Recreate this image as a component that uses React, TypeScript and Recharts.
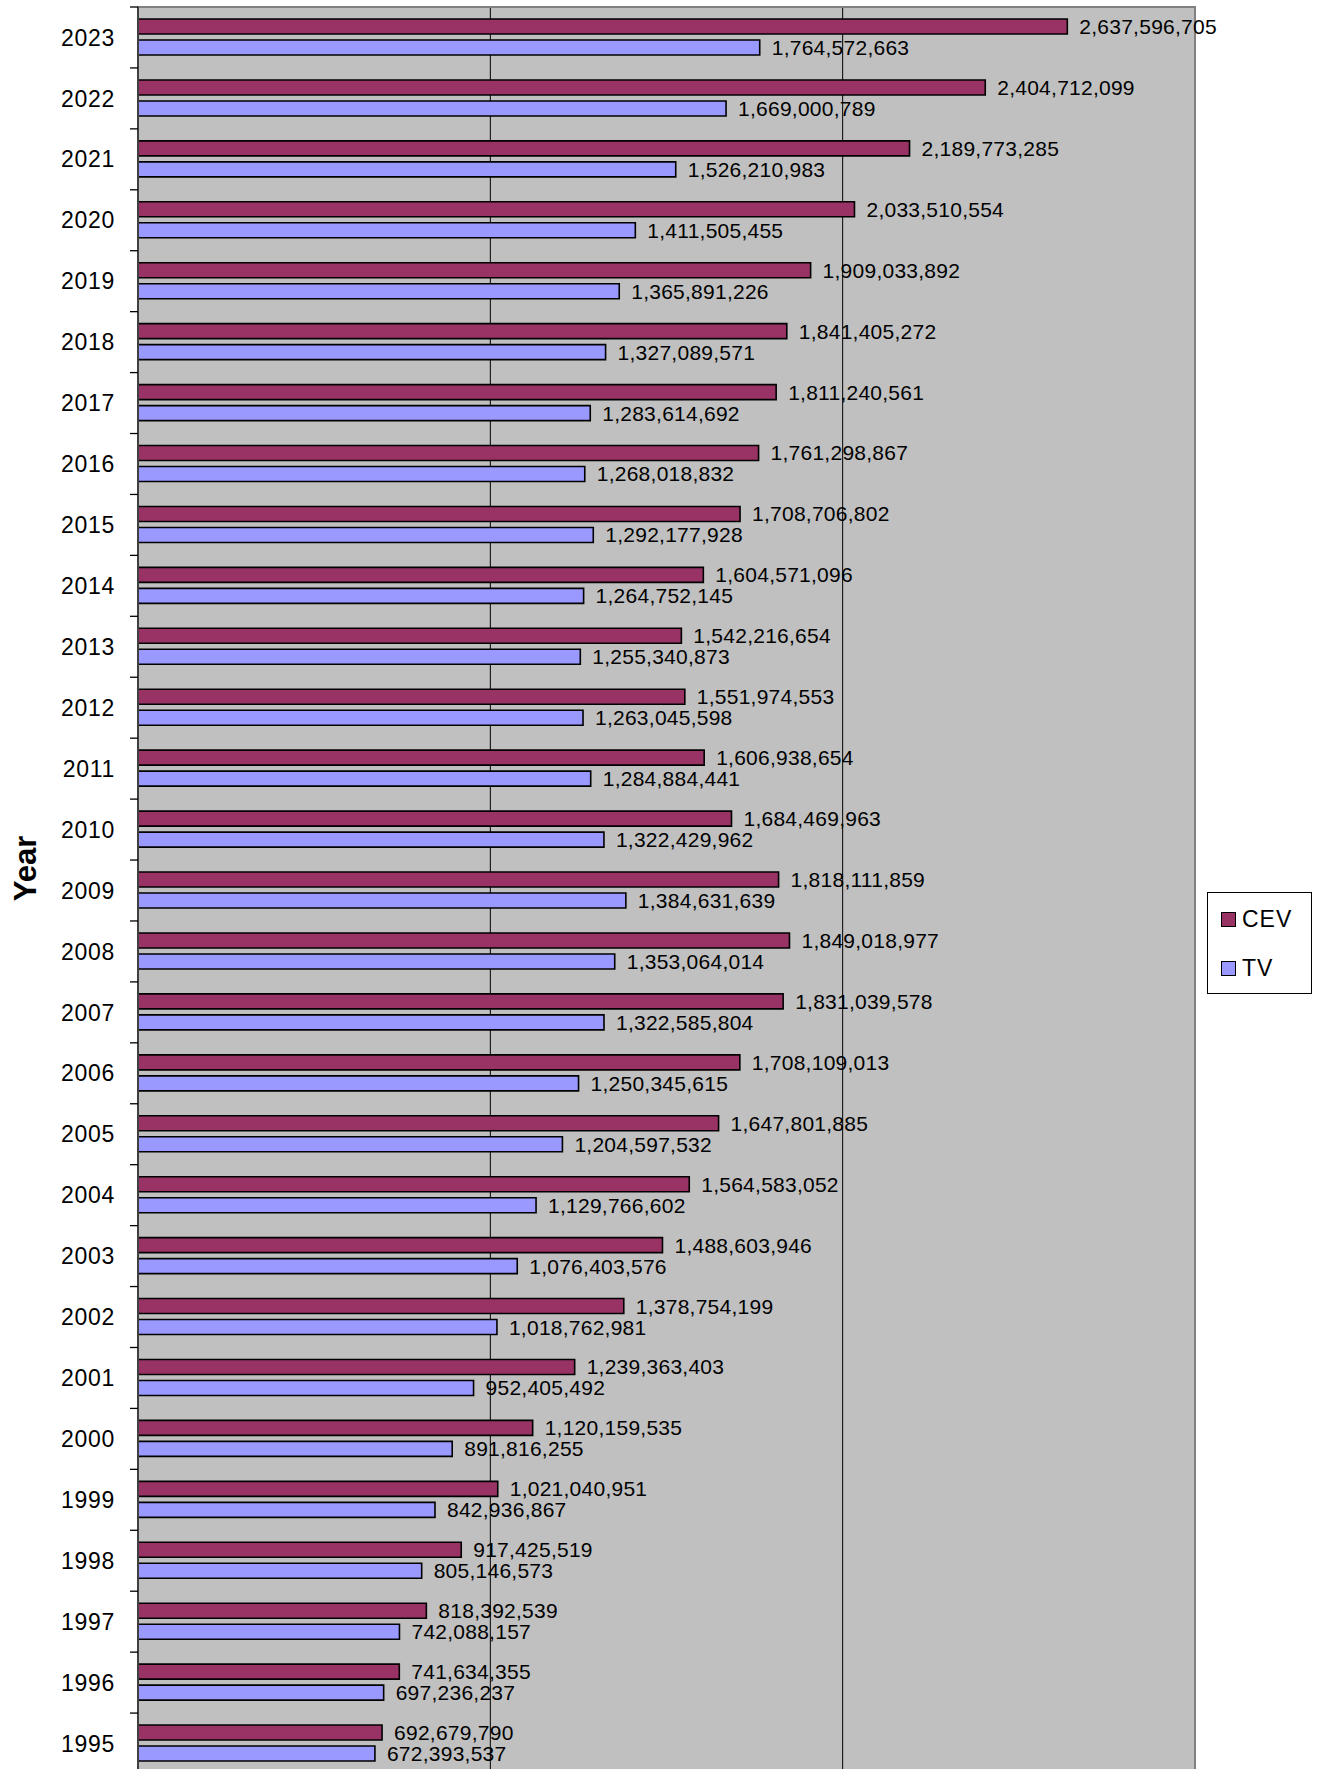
import React from 'react';
import {
  BarChart,
  Bar,
  XAxis,
  YAxis,
  CartesianGrid,
  LabelList,
  Legend,
  usePlotArea,
} from 'recharts';

const years = [
  '2023', '2022', '2021', '2020', '2019', '2018', '2017', '2016', '2015', '2014',
  '2013', '2012', '2011', '2010', '2009', '2008', '2007', '2006', '2005', '2004',
  '2003', '2002', '2001', '2000', '1999', '1998', '1997', '1996', '1995',
];

const cevValues = [
  2637596705, 2404712099, 2189773285, 2033510554, 1909033892, 1841405272, 1811240561,
  1761298867, 1708706802, 1604571096, 1542216654, 1551974553, 1606938654, 1684469963,
  1818111859, 1849018977, 1831039578, 1708109013, 1647801885, 1564583052, 1488603946,
  1378754199, 1239363403, 1120159535, 1021040951, 917425519, 818392539, 741634355,
  692679790,
];

const tvValues = [
  1764572663, 1669000789, 1526210983, 1411505455, 1365891226, 1327089571, 1283614692,
  1268018832, 1292177928, 1264752145, 1255340873, 1263045598, 1284884441, 1322429962,
  1384631639, 1353064014, 1322585804, 1250345615, 1204597532, 1129766602, 1076403576,
  1018762981, 952405492, 891816255, 842936867, 805146573, 742088157, 697236237,
  672393537,
];

const xTicks = [0, 1000000000, 2000000000, 3000000000];
const xDomain = [0, 3000000000];

const data = years.map((year, i) => ({ year, CEV: cevValues[i], TV: tvValues[i] }));

const FONT = '"Liberation Sans", Arial, Helvetica, sans-serif';

const fmt = (v: any) => Number(v).toLocaleString('en-US');

function PlotBorder() {
  const area = usePlotArea();
  if (!area) return null;
  return (
    <rect
      x={area.x}
      y={area.y}
      width={area.width}
      height={area.height}
      fill="none"
      stroke="#808080"
      strokeWidth={2}
    />
  );
}

function YearTick(props: any) {
  const { x, y, payload } = props;
  const half = payload && payload.offset != null ? payload.offset : 30.5;
  return (
    <g>
      <line x1={x + 15} x2={x + 23} y1={y - half} y2={y - half} stroke="#000" strokeWidth={1.3} />
      <text
        x={x}
        y={y}
        dy="0.355em"
        textAnchor="end"
        fontSize={23}
        letterSpacing={0.7}
        fill="#000"
        fontFamily={FONT}
      >
        {payload.value}
      </text>
    </g>
  );
}

function YearLabel(props: any) {
  const vb = props.viewBox || { x: 0, y: 0, width: 0, height: 0 };
  const cx = vb.x + 25;
  const cy = vb.y + vb.height / 2 - 22;
  return (
    <text
      x={cx}
      y={cy}
      dy="0.355em"
      textAnchor="middle"
      transform={`rotate(-90 ${cx} ${cy})`}
      fontSize={31}
      fontWeight="bold"
      fill="#000"
      fontFamily={FONT}
    >
      Year
    </text>
  );
}

function LegendBox(props: any) {
  const items = props.payload || [];
  return (
    <div
      style={{
        width: 105,
        height: 102,
        boxSizing: 'border-box',
        border: '1px solid #000',
        background: '#fff',
        position: 'relative',
        fontFamily: FONT,
      }}
    >
      {items.map((it: any, i: number) => (
        <div
          key={it.value}
          style={{
            position: 'absolute',
            left: 13,
            top: 11 + i * 49,
            height: 30,
            display: 'flex',
            alignItems: 'center',
          }}
        >
          <span
            style={{
              display: 'inline-block',
              width: 15,
              height: 15,
              boxSizing: 'border-box',
              background: it.color,
              border: '1.5px solid #000',
            }}
          />
          <span style={{ marginLeft: 6, fontSize: 23, letterSpacing: 1, color: '#000', lineHeight: '30px' }}>
            {it.value}
          </span>
        </div>
      ))}
    </div>
  );
}

export default function App() {
  return (
    <div
      style={{
        position: 'absolute',
        left: 0,
        top: 0,
        width: 1319,
        height: 1769,
        overflow: 'hidden',
        background: '#fff',
      }}
    >
      <BarChart
        width={1319}
        height={1769}
        data={data}
        layout="vertical"
        margin={{ top: 7, right: 124, bottom: -5, left: 0 }}
        barGap={6}
      >
        <CartesianGrid fill="#C0C0C0" fillOpacity={1} horizontal={false} stroke="#000" strokeWidth={1} />
        <XAxis type="number" domain={xDomain} ticks={xTicks} hide />
        <YAxis
          type="category"
          dataKey="year"
          width={138}
          tickSize={8}
          tickMargin={15}
          tickLine={false}
          axisLine={{ stroke: '#404040', strokeWidth: 2 }}
          tick={<YearTick />}
          interval={0}
          label={{ content: YearLabel }}
        />
        <Bar dataKey="CEV" fill="#993366" stroke="#000" strokeWidth={1.6} barSize={15} isAnimationActive={false}>
          <LabelList
            dataKey="CEV"
            position="right"
            offset={12}
            formatter={fmt}
            fill="#000"
            stroke="none"
            fontSize={21}
            letterSpacing={0.25}
            fontFamily={FONT}
          />
        </Bar>
        <Bar dataKey="TV" fill="#9999FF" stroke="#000" strokeWidth={1.6} barSize={15} isAnimationActive={false}>
          <LabelList
            dataKey="TV"
            position="right"
            offset={12}
            formatter={fmt}
            fill="#000"
            stroke="none"
            fontSize={21}
            letterSpacing={0.25}
            fontFamily={FONT}
          />
        </Bar>
        <PlotBorder />
        <Legend
          layout="vertical"
          align="center"
          verticalAlign="middle"
          content={<LegendBox />}
          wrapperStyle={{ left: 1207, top: 892, width: 105, height: 102 }}
        />
      </BarChart>
    </div>
  );
}
